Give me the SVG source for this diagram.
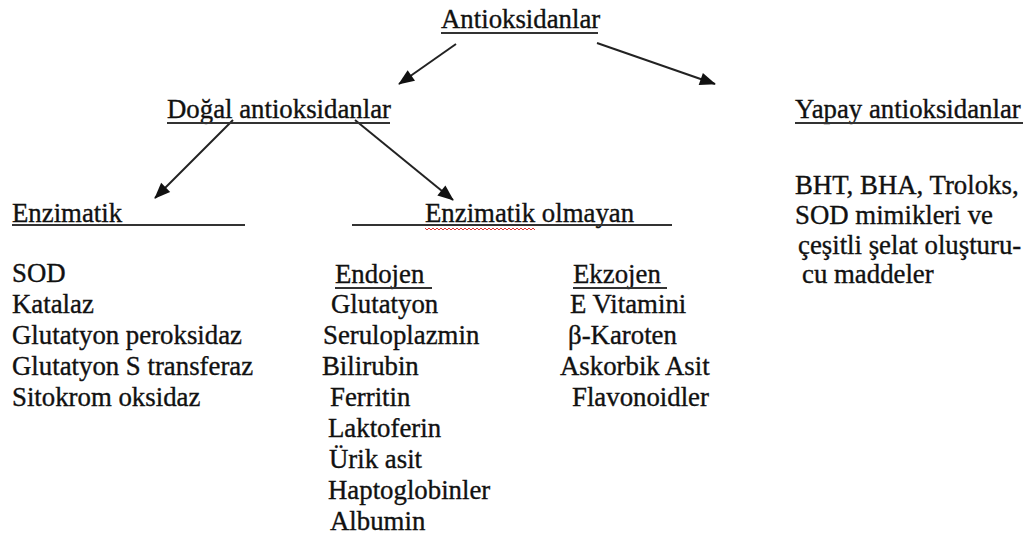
<svg xmlns="http://www.w3.org/2000/svg" width="1032" height="539" viewBox="0 0 1032 539">
<style>
text{font-family:"Liberation Serif","Times New Roman",serif;font-size:26.8px;fill:#111;stroke:#111;stroke-width:0.35}
.ul{stroke:#333;stroke-width:1.8;fill:none}
.arr{stroke:#222;stroke-width:2;fill:none;marker-end:url(#ah)}
.sq{stroke:#e03030;stroke-width:1;fill:none}
</style>
<defs>
<marker id="ah" viewBox="0 0 10 10" refX="9" refY="5" markerWidth="9" markerHeight="8" markerUnits="userSpaceOnUse" orient="auto" overflow="visible">
<path d="M0,0 L10,5 L0,10 z" fill="#111" transform="scale(2,1.6) translate(-4.9,-1.9)"/>
</marker>
</defs>
<rect width="1032" height="539" fill="#fff"/>
<g id="connectors">
<path class="arr" d="M456,44 L399,84"/>
<path class="arr" d="M597,43 L715,84"/>
<path class="arr" d="M233,120 L155,198"/>
<path class="arr" d="M355,120 L453,200"/>
</g>
<g id="antioksidanlar">
<text x="441" y="28">Antioksidanlar</text>
<line class="ul" x1="441" y1="33" x2="598" y2="33"/>
</g>
<g id="dogal">
<text x="167" y="118">Doğal antioksidanlar</text>
<line class="ul" x1="167" y1="123" x2="390" y2="123"/>
</g>
<g id="yapay">
<text x="795" y="118">Yapay antioksidanlar</text>
<line class="ul" x1="795" y1="123" x2="1023" y2="123"/>
<text x="795" y="194">BHT, BHA, Troloks,</text>
<text x="795" y="224">SOD mimikleri ve</text>
<text x="798" y="254">çeşitli şelat oluşturu-</text>
<text x="802" y="283">cu maddeler</text>
</g>
<g id="enzimatik">
<text x="12" y="222">Enzimatik</text>
<line class="ul" x1="12" y1="225" x2="245" y2="225"/>
<text x="12" y="282">SOD</text>
<text x="12" y="313">Katalaz</text>
<text x="12" y="344">Glutatyon peroksidaz</text>
<text x="12" y="375">Glutatyon S transferaz</text>
<text x="12" y="406">Sitokrom oksidaz</text>
</g>
<g id="enzimatik-olmayan">
<text x="425" y="222">Enzimatik olmayan</text>
<line class="ul" x1="352" y1="225" x2="672" y2="225"/>
<polyline class="sq" points="425,228 427,230 429,228 431,230 433,228 435,230 437,228 439,230 441,228 443,230 445,228 447,230 449,228 451,230 453,228 455,230 457,228 459,230 461,228 463,230 465,228 467,230 469,228 471,230 473,228 475,230 477,228 479,230 481,228 483,230 485,228 487,230 489,228 491,230 493,228 495,230 497,228 499,230 501,228 503,230 505,228 507,230 509,228 511,230 513,228 515,230 517,228 519,230 521,228 523,230 525,228 527,230 529,228 531,230 533,228 535,230"/>
</g>
<g id="endojen">
<text x="335" y="283">Endojen</text>
<line class="ul" x1="335" y1="288" x2="432" y2="288"/>
<text x="331" y="313">Glutatyon</text>
<text x="323" y="344">Seruloplazmin</text>
<text x="322" y="375">Bilirubin</text>
<text x="330" y="406">Ferritin</text>
<text x="328" y="437">Laktoferin</text>
<text x="329" y="468">Ürik asit</text>
<text x="328" y="499">Haptoglobinler</text>
<text x="330" y="530">Albumin</text>
</g>
<g id="ekzojen">
<text x="573" y="283">Ekzojen</text>
<line class="ul" x1="573" y1="288" x2="667" y2="288"/>
<text x="570" y="313">E Vitamini</text>
<text x="568" y="344">β-Karoten</text>
<text x="560" y="375">Askorbik Asit</text>
<text x="572" y="406">Flavonoidler</text>
</g>
</svg>
